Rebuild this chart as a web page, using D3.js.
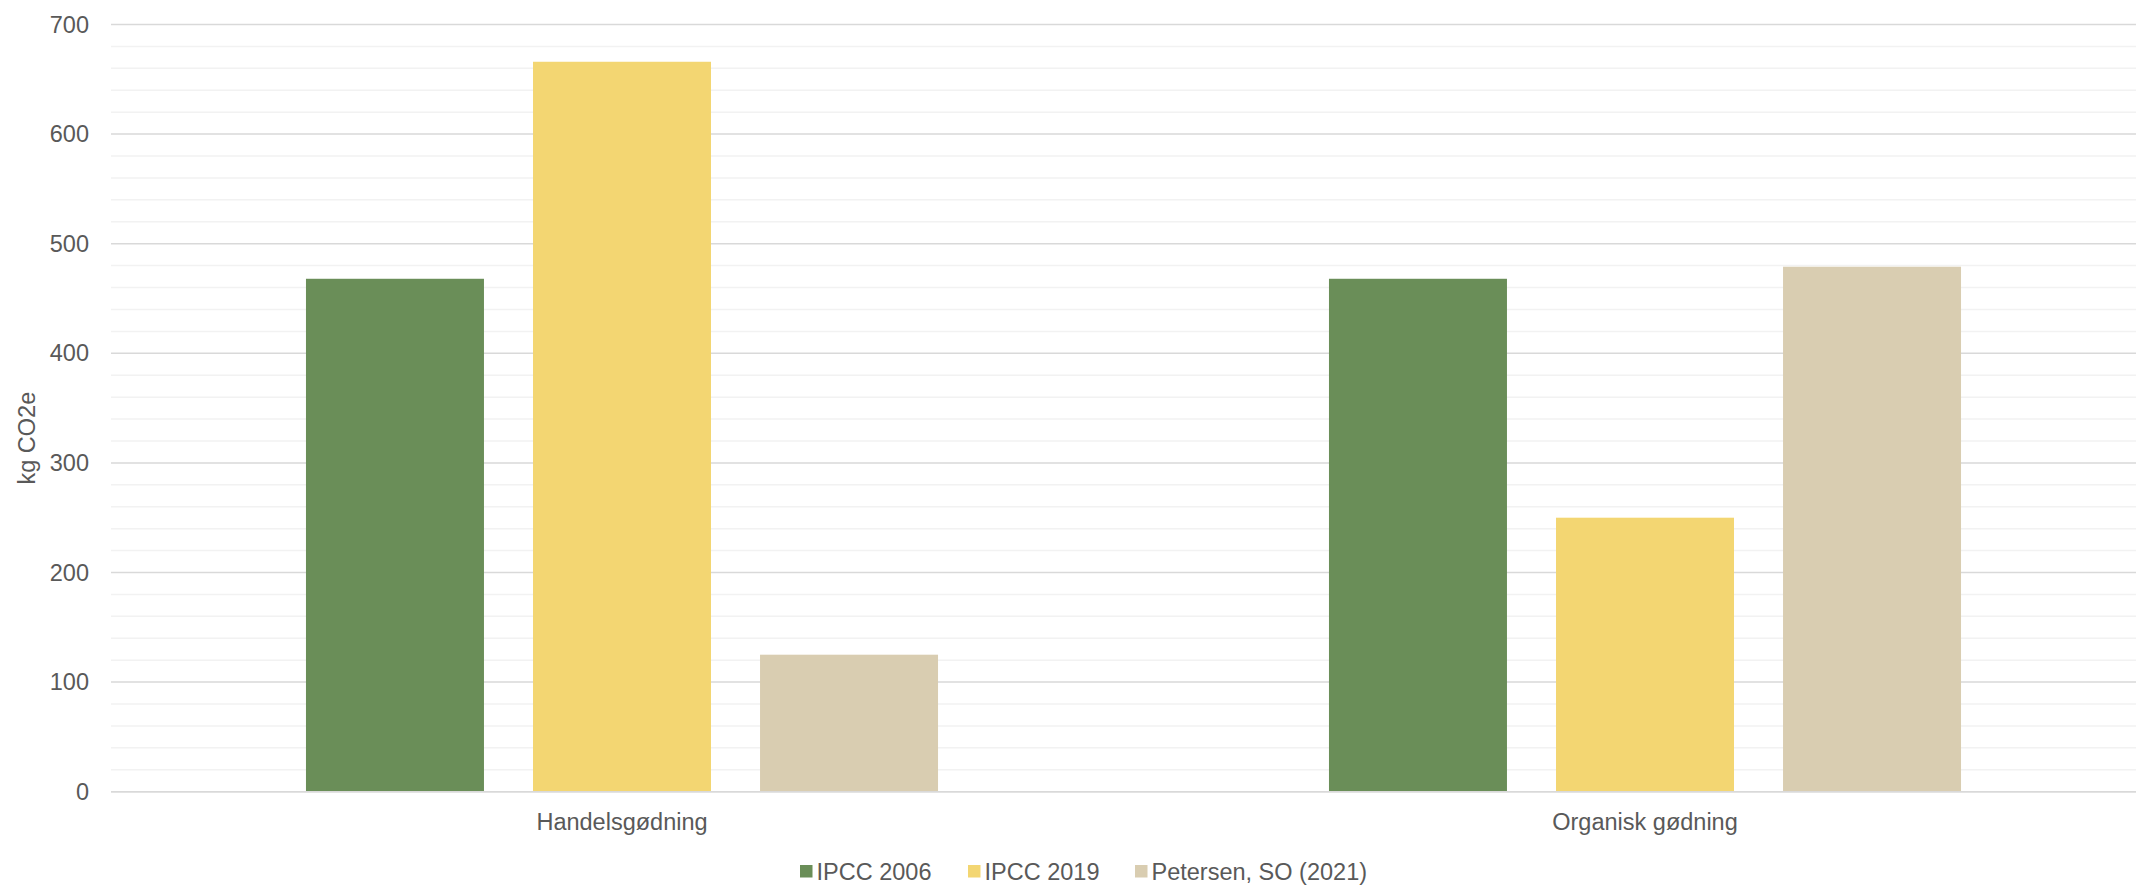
<!DOCTYPE html>
<html>
<head>
<meta charset="utf-8">
<script src="https://cdn.jsdelivr.net/npm/d3@7"></script>
<style>
  html, body { margin: 0; padding: 0; background: #fff; overflow: hidden; }
  svg { display: block; font-family: "Liberation Sans", Arial, sans-serif; }
</style>
</head>
<body>
<svg id="chart" width="2136" height="886"></svg>
<script>
const categories = ["Handelsgødning", "Organisk gødning"];
const seriesNames = ["IPCC 2006", "IPCC 2019", "Petersen, SO (2021)"];
const ipcc2006 = [468, 468];
const ipcc2019 = [666, 250];
const petersen2021 = [125, 479];
const yTickValues = [0, 100, 200, 300, 400, 500, 600, 700];
const yTitle = "kg CO2e";

(function () {
const seriesValues = [ipcc2006, ipcc2019, petersen2021];
const colors = ["#6a8e58", "#f3d672", "#d9cdb1"];
const fs = 23.5;

const svg = d3.select("#chart");
const W = 2136;
const mLeft = 110.5, mRight = 2156.5, mTop = 24.5, mBottom = 791.7;

const x = d3.scaleBand().domain(categories).range([mLeft, mRight]).padding(0);
const xs = d3.scaleBand().domain(seriesNames).range([0, x.bandwidth()])
  .paddingInner(0.216).paddingOuter(0.861);
const y = d3.scaleLinear().domain([0, 700]).range([mBottom, mTop]);

// minor gridlines
svg.append("g").selectAll("line").data(y.ticks(35).filter(v => v % 100 !== 0))
  .join("line")
  .attr("x1", 111).attr("x2", W)
  .attr("y1", d => y(d)).attr("y2", d => y(d))
  .attr("stroke", "#f2f2f2").attr("stroke-width", 1.5);

// major gridlines
svg.append("g").selectAll("line").data(yTickValues)
  .join("line")
  .attr("x1", 111).attr("x2", W)
  .attr("y1", d => y(d)).attr("y2", d => y(d))
  .attr("stroke", "#d9d9d9").attr("stroke-width", 1.5);

// bars
const groups = svg.append("g").selectAll("g").data(categories).join("g")
  .attr("transform", c => `translate(${x(c)},0)`);
groups.selectAll("rect")
  .data((c, ci) => seriesNames.map((s, si) => ({s, si, v: seriesValues[si][ci]})))
  .join("rect")
  .attr("x", d => xs(d.s))
  .attr("width", xs.bandwidth())
  .attr("y", d => y(d.v))
  .attr("height", d => y(0) - y(d.v))
  .attr("fill", d => colors[d.si]);

// baseline
svg.append("line").attr("x1", 111).attr("x2", W).attr("y1", y(0)).attr("y2", y(0))
  .attr("stroke", "#d9d9d9").attr("stroke-width", 1.5);

// y axis labels
const yAxis = d3.axisLeft(y).tickValues(yTickValues).tickSize(0).tickPadding(0);
const gy = svg.append("g").attr("transform", "translate(89,0)").call(yAxis);
gy.select(".domain").remove();
gy.selectAll("text").attr("font-size", fs).attr("fill", "#595959")
  .attr("font-family", "Liberation Sans, Arial, sans-serif");

// x axis labels
const xAxis = d3.axisBottom(x).tickSize(0).tickPadding(0);
const gx = svg.append("g").attr("transform", `translate(0,${mBottom + 22})`).call(xAxis);
gx.select(".domain").remove();
gx.selectAll("text").attr("font-size", fs).attr("fill", "#595959")
  .attr("font-family", "Liberation Sans, Arial, sans-serif");

// y title
svg.append("text")
  .attr("transform", `translate(27,${(mTop + mBottom) / 2 + 30}) rotate(-90)`)
  .attr("text-anchor", "middle").attr("dominant-baseline", "central")
  .attr("font-size", fs).attr("fill", "#595959").text(yTitle);

// legend
const legendX = [800, 968, 1135];
const lg = svg.append("g").selectAll("g").data(seriesNames).join("g")
  .attr("transform", (d, i) => `translate(${legendX[i]},865)`);
lg.append("rect").attr("width", 12.5).attr("height", 12.5).attr("fill", (d, i) => colors[i]);
lg.append("text").attr("x", 16.5).attr("y", 15)
  .attr("font-size", fs).attr("fill", "#595959").text(d => d);
})();
</script>
</body>
</html>
